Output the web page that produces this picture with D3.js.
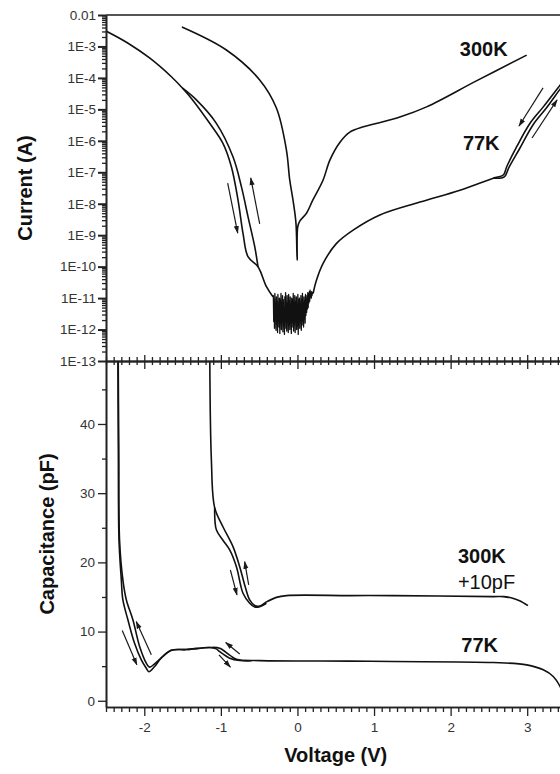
<!DOCTYPE html>
<html>
<head>
<meta charset="utf-8">
<script src="https://cdn.jsdelivr.net/npm/d3@7"></script>
<style>
  body { margin: 0; background: #fff; overflow: hidden; }
  svg { display: block; font-family: "Liberation Sans", Arial, sans-serif; }
</style>
</head>
<body>
<div id="vis-canvas"></div>
<script>
const outerWidth = 560;
const outerHeight = 774;

// ---- I-V data (top panel), current in A ----
// 77K sweep down the left side, into the noise floor
const iv77DownV = [-2.50, -2.217, -1.931, -1.643, -1.50, -1.369, -1.146, -0.973, -0.863, -0.776, -0.711, -0.646, -0.515, -0.405, -0.32];
const iv77DownI = [3.1e-3, 1.29e-3, 4.3e-4, 1.07e-4, 4.7e-5, 2.0e-5, 3.6e-6, 8.3e-7, 1.5e-7, 1.3e-8, 1.15e-9, 2.07e-10, 9.9e-11, 2.3e-11, 1.1e-11];
// 77K return branch of the left hysteresis loop
const iv77LoopV = [-1.50, -1.32, -1.059, -0.842, -0.732, -0.646, -0.558, -0.515];
const iv77LoopI = [4.7e-5, 2.0e-5, 3.6e-6, 3.1e-7, 3.5e-8, 3.9e-9, 4.3e-10, 9.9e-11];
// 77K noise floor around 0 V
const noiseV = [-0.315, -0.310, -0.305, -0.300, -0.295, -0.290, -0.285, -0.280, -0.275, -0.270,
                -0.265, -0.260, -0.255, -0.250, -0.245, -0.240, -0.235, -0.230, -0.225, -0.220,
                -0.215, -0.210, -0.205, -0.200, -0.195, -0.190, -0.185, -0.180, -0.175, -0.170,
                -0.165, -0.160, -0.155, -0.150, -0.145, -0.140, -0.135, -0.130, -0.125, -0.120,
                -0.115, -0.110, -0.105, -0.100, -0.095, -0.090, -0.085, -0.080, -0.075, -0.070,
                -0.065, -0.060, -0.055, -0.050, -0.045, -0.040, -0.035, -0.030, -0.025, -0.020,
                -0.015, -0.010, -0.005, 0.000, 0.005, 0.010, 0.015, 0.020, 0.025, 0.030,
                0.035, 0.040, 0.045, 0.050, 0.055, 0.060, 0.065, 0.070, 0.075, 0.080,
                0.085, 0.090, 0.095, 0.100, 0.105, 0.110, 0.115, 0.120, 0.125, 0.130,
                0.135, 0.140, 0.145, 0.150, 0.155, 0.160, 0.165, 0.170, 0.175, 0.180,
                0.185, 0.190, 0.195];
const noiseI = [1.2e-11, 1.8e-12, 9.0e-12, 1.1e-12, 1.4e-11, 2.2e-12, 6.0e-12, 9.5e-13, 1.1e-11, 1.5e-12,
                7.5e-12, 8.0e-13, 1.3e-11, 2.0e-12, 5.5e-12, 1.2e-12, 1.0e-11, 7.5e-13, 8.5e-12, 1.6e-12,
                1.4e-11, 1.0e-12, 6.5e-12, 2.4e-12, 1.2e-11, 8.5e-13, 9.0e-12, 1.3e-12, 5.0e-12, 7.0e-13,
                1.1e-11, 1.8e-12, 1.5e-11, 1.1e-12, 7.0e-12, 9.0e-13, 1.2e-11, 2.0e-12, 6.0e-12, 8.0e-13,
                1.3e-11, 1.4e-12, 8.0e-12, 1.0e-12, 1.1e-11, 2.3e-12, 5.5e-12, 7.5e-13, 1.0e-11, 1.2e-12,
                9.0e-12, 1.7e-12, 1.4e-11, 9.0e-13, 6.5e-12, 1.5e-12, 1.2e-11, 8.0e-13, 7.5e-12, 2.1e-12,
                1.1e-11, 1.0e-12, 5.0e-12, 1.3e-12, 1.3e-11, 7.0e-13, 8.5e-12, 1.8e-12, 1.0e-11, 1.1e-12,
                6.0e-12, 2.5e-12, 1.2e-11, 9.5e-13, 9.0e-12, 1.4e-12, 1.4e-11, 1.9e-12, 7.0e-12, 1.2e-12,
                1.1e-11, 2.2e-12, 8.0e-12, 1.6e-12, 1.3e-11, 2.8e-12, 9.5e-12, 3.5e-12, 1.2e-11, 4.5e-12,
                1.5e-11, 5.0e-12, 1.3e-11, 7.0e-12, 1.6e-11, 8.0e-12, 1.8e-11, 1.2e-11, 1.4e-11, 1.0e-11,
                1.6e-11, 1.2e-11, 1.5e-11];
// 77K rising right side
const iv77RiseV = [0.204, 0.248, 0.335, 0.51, 0.727, 1.076, 1.599, 2.122, 2.557, 2.688, 2.732, 2.863, 3.037, 3.21, 3.429, 3.5];
const iv77RiseI = [1.4e-11, 3.7e-11, 1.27e-10, 5.5e-10, 1.45e-9, 4.4e-9, 1.13e-8, 2.7e-8, 6.5e-8, 8.2e-8, 1.5e-7, 6.5e-7, 3.6e-6, 1.2e-5, 5.9e-5, 9.9e-5];
// 77K return branch at the right side
const iv77KinkV = [2.557, 2.70, 2.76, 2.90, 3.075, 3.25, 3.46, 3.5];
const iv77KinkI = [6.5e-8, 7.1e-8, 1.4e-7, 5.6e-7, 3.2e-6, 1.1e-5, 5.5e-5, 7.0e-5];
// 300K
const iv300V = [-1.509, -0.928, -0.493, -0.275, -0.144, -0.101, -0.058, -0.02, -0.004, 0.003, 0.03, 0.118, 0.2, 0.335, 0.422, 0.553, 0.684, 0.85, 1.0, 1.337, 1.686, 2.33, 2.993];
const iv300I = [4.15e-3, 7.7e-4, 8.6e-5, 1.1e-5, 5.1e-7, 5.7e-8, 1.3e-8, 2.5e-9, 1.6e-10, 1.8e-9, 2.8e-9, 5.0e-9, 1.3e-8, 5.7e-8, 2.4e-7, 8.9e-7, 1.9e-6, 2.75e-6, 3.4e-6, 5.7e-6, 1.2e-5, 7.9e-5, 5.3e-4];

// ---- C-V data (bottom panel), capacitance in pF ----
const cv77AV = [-2.345, -2.339, -2.33, -2.30, -2.28, -2.214, -2.127, -2.039, -1.974, -1.94, -1.865, -1.778, -1.647, -1.451, -1.146, -1.016, -0.885, -0.797, -0.493, 0.684, 1.25, 2.557, 2.993, 3.21, 3.34, 3.43, 3.5];
const cv77AC = [52, 36.2, 23.2, 17.5, 14.6, 11.7, 8.3, 5.9, 4.7, 4.2, 4.95, 6.2, 7.3, 7.4, 7.7, 7.6, 6.6, 6.0, 5.8, 5.73, 5.67, 5.53, 5.19, 4.47, 3.5, 2.06, 0.3];
const cv77BV = [-2.342, -2.333, -2.323, -2.28, -2.235, -2.149, -2.061, -1.974, -1.931, -1.865, -1.778, -1.647, -1.451, -1.146, -1.06, -1.016, -0.885, -0.754, -0.60];
const cv77BC = [52, 36.2, 23.2, 17.5, 14.6, 11.7, 7.84, 5.44, 4.86, 5.34, 6.2, 7.3, 7.4, 7.7, 7.5, 7.1, 6.16, 5.82, 5.78];
// 300K, shown shifted by +10 pF
const cv300AV = [-1.146, -1.124, -1.081, -0.973, -0.842, -0.754, -0.689, -0.624, -0.559, -0.493, -0.405, -0.275, -0.144, 0.684, 1.25, 2.557, 2.69, 2.80, 2.90, 3.01];
const cv300AC = [52, 34.8, 27.9, 25.15, 22.27, 19.38, 16.74, 14.57, 13.78, 13.7, 14.29, 14.94, 15.2, 15.2, 15.2, 15.05, 15.05, 14.85, 14.45, 13.75];
const cv300BV = [-1.081, -1.059, -0.973, -0.885, -0.797, -0.711, -0.624, -0.559, -0.493, -0.405];
const cv300BC = [27.9, 24.7, 23.2, 21.8, 19.38, 15.54, 14.1, 13.56, 13.6, 14.1];

// sweep-direction arrows: [V from, value from, V to, value to]
const ivArrows = [
  [-0.911, 4.5e-8, -0.78, 1.17e-9],
  [-0.493, 2.3e-9, -0.61, 6.6e-8],
  [3.207, 4.8e-5, 2.893, 2.95e-6],
  [3.063, 1.23e-6, 3.39, 2.0e-5]
];
const cvArrows = [
  [-0.876, 18.9, -0.79, 15.3],
  [-0.637, 16.74, -0.689, 20.1],
  [-2.288, 10.14, -2.097, 5.2],
  [-1.908, 6.64, -2.105, 11.44],
  [-0.754, 6.77, -0.937, 8.41],
  [-1.025, 6.64, -0.876, 4.86]
];

// curve labels: [text, V, value, bold]
const ivLabels = [["300K", 2.12, 5.0e-4, true], ["77K", 2.16, 5.1e-7, true]];
const cvLabels = [["300K", 2.095, 19.9, true], ["+10pF", 2.095, 16.2, false], ["77K", 2.14, 7.0, true]];

// tick values
const xMajor = [-2, -1, 0, 1, 2, 3];
const ivMajor = [1e-13, 1e-12, 1e-11, 1e-10, 1e-9, 1e-8, 1e-7, 1e-6, 1e-5, 1e-4, 1e-3, 1e-2];
const cvMajor = [0, 10, 20, 30, 40];
const cvMinor = [5, 15, 25, 35, 45];

const svg = d3.select("#vis-canvas").append("svg")
    .attr("width", outerWidth)
    .attr("height", outerHeight);

const plotLeft = 106, plotRight = 565.5;
const ivTop = 15, ivBottom = 361, cvBottom = 707;

const x = d3.scaleLinear().domain([-2.5, 3.5]).range([plotLeft, plotRight]);
const yI = d3.scaleLog().domain([1e-13, 1e-2]).range([ivBottom, ivTop]);
const yC = d3.scaleLinear().domain([-0.9, 49.1]).range([cvBottom, ivBottom]);

const defs = svg.append("defs");
defs.append("clipPath").attr("id", "ivClip").append("rect")
    .attr("x", plotLeft).attr("y", ivTop).attr("width", plotRight - plotLeft).attr("height", ivBottom - ivTop);
defs.append("clipPath").attr("id", "cvClip").append("rect")
    .attr("x", plotLeft).attr("y", ivBottom).attr("width", plotRight - plotLeft).attr("height", cvBottom - ivBottom);
defs.append("marker")
    .attr("id", "arrowhead")
    .attr("viewBox", "0 0 10 10")
    .attr("refX", 9).attr("refY", 5)
    .attr("markerWidth", 8).attr("markerHeight", 8)
    .attr("markerUnits", "userSpaceOnUse")
    .attr("orient", "auto")
  .append("path")
    .attr("d", "M0,1.8L10,5L0,8.2Z")
    .attr("fill", "#1a1a1a");

const zip = (a, b) => a.map((v, i) => [v, b[i]]);

const ivLine = d3.line().x(d => x(d[0])).y(d => yI(d[1])).curve(d3.curveCatmullRom.alpha(0.5));
const ivNoiseLine = d3.line().x(d => x(d[0])).y(d => yI(d[1]));
const cvLine = d3.line().x(d => x(d[0])).y(d => yC(d[1])).curve(d3.curveCatmullRom.alpha(0.5));

// ** curves
const ivG = svg.append("g").attr("clip-path", "url(#ivClip)")
    .attr("fill", "none").attr("stroke", "#111").attr("stroke-width", 1.6).attr("stroke-linejoin", "round");

const noisePts = zip(noiseV, noiseI);
const down77 = zip(iv77DownV, iv77DownI);
const rise77 = zip(iv77RiseV, iv77RiseI);

ivG.append("path").attr("d", ivLine(down77));
ivG.append("path").attr("d", ivLine(zip(iv77LoopV, iv77LoopI)));
ivG.append("path").attr("stroke-width", 1.3)
    .attr("d", ivNoiseLine([down77[down77.length - 1], ...noisePts, rise77[0]]));
ivG.append("path").attr("d", ivLine(rise77));
ivG.append("path").attr("d", ivLine(zip(iv77KinkV, iv77KinkI)));
ivG.append("path").attr("d", ivLine(zip(iv300V, iv300I)));

const cvG = svg.append("g").attr("clip-path", "url(#cvClip)")
    .attr("fill", "none").attr("stroke", "#111").attr("stroke-width", 1.6).attr("stroke-linejoin", "round");

cvG.append("path").attr("d", cvLine(zip(cv77AV, cv77AC)));
cvG.append("path").attr("d", cvLine(zip(cv77BV, cv77BC)));
cvG.append("path").attr("d", cvLine(zip(cv300AV, cv300AC)));
cvG.append("path").attr("d", cvLine(zip(cv300BV, cv300BC)));

// ** arrows
svg.append("g").selectAll("line")
    .data(ivArrows)
    .join("line")
    .attr("x1", d => x(d[0])).attr("y1", d => yI(d[1]))
    .attr("x2", d => x(d[2])).attr("y2", d => yI(d[3]))
    .attr("stroke", "#1a1a1a").attr("stroke-width", 1.2)
    .attr("marker-end", "url(#arrowhead)");

svg.append("g").selectAll("line")
    .data(cvArrows)
    .join("line")
    .attr("x1", d => x(d[0])).attr("y1", d => yC(d[1]))
    .attr("x2", d => x(d[2])).attr("y2", d => yC(d[3]))
    .attr("stroke", "#1a1a1a").attr("stroke-width", 1.2)
    .attr("marker-end", "url(#arrowhead)");

// ** axes
function styleAxis(g, withText) {
    g.select(".domain").attr("stroke", "#222").attr("stroke-width", 1.6);
    g.selectAll(".tick line").attr("stroke", "#222").attr("stroke-width", 1.3);
    g.selectAll(".tick text").attr("fill", "#333").style("font-size", "13.5px")
        .style("font-family", '"Liberation Sans", Arial, sans-serif');
    if (!withText) g.selectAll(".tick text").remove();
}

const xMinor = d3.range(-25, 36).map(v => v / 10).filter(v => !Number.isInteger(v));
const ivMinor = [];
ivMajor.slice(0, -1).forEach(d => { for (let m = 2; m <= 9; m++) ivMinor.push(d * m); });

const fmtI = d => d === 1e-2 ? "0.01" : "1E" + Math.round(Math.log10(d));
const fmtX = d => String(d);

// top panel: frame line on top
svg.append("line")
    .attr("x1", plotLeft).attr("x2", plotRight)
    .attr("y1", ivTop).attr("y2", ivTop)
    .attr("stroke", "#555").attr("stroke-width", 2);

// top panel left (log) axis
svg.append("g").attr("transform", `translate(${plotLeft},0)`)
    .call(d3.axisLeft(yI).tickValues(ivMinor).tickSize(4).tickSizeOuter(0).tickFormat(""))
    .call(g => styleAxis(g, false));
svg.append("g").attr("transform", `translate(${plotLeft},0)`)
    .call(d3.axisLeft(yI).tickValues(ivMajor).tickSize(8).tickSizeOuter(0).tickPadding(2).tickFormat(fmtI))
    .call(g => styleAxis(g, true))
    .call(g => g.selectAll(".tick line").attr("stroke-width", 2));

// shared middle axis, ticks crossing the line
[["axisBottom", xMinor, 4], ["axisTop", xMinor, 4], ["axisBottom", xMajor, 8], ["axisTop", xMajor, 6]]
    .forEach(([fn, vals, size]) => {
        svg.append("g").attr("transform", `translate(0,${ivBottom})`)
            .call(d3[fn](x).tickValues(vals).tickSize(size).tickSizeOuter(0).tickFormat(""))
            .call(g => styleAxis(g, false));
    });

// bottom panel left axis
svg.append("g").attr("transform", `translate(${plotLeft},0)`)
    .call(d3.axisLeft(yC).tickValues(cvMinor).tickSize(4).tickSizeOuter(0).tickFormat(""))
    .call(g => styleAxis(g, false));
svg.append("g").attr("transform", `translate(${plotLeft},0)`)
    .call(d3.axisLeft(yC).tickValues(cvMajor).tickSize(8).tickSizeOuter(0).tickPadding(3))
    .call(g => styleAxis(g, true));

// bottom panel x axis
svg.append("g").attr("transform", `translate(0,${cvBottom})`)
    .call(d3.axisBottom(x).tickValues(xMinor).tickSize(5).tickSizeOuter(0).tickFormat(""))
    .call(g => styleAxis(g, false));
svg.append("g").attr("transform", `translate(0,${cvBottom})`)
    .call(d3.axisBottom(x).tickValues(xMajor).tickSize(9).tickSizeOuter(0).tickPadding(6).tickFormat(fmtX))
    .call(g => styleAxis(g, true));

// ** titles
const titleStyle = sel => sel.attr("fill", "#111").style("font-size", "20px").style("font-weight", "bold");

svg.append("text")
    .attr("transform", `translate(32,${(ivTop + ivBottom) / 2}) rotate(-90)`)
    .attr("text-anchor", "middle")
    .text("Current (A)")
    .call(titleStyle);

svg.append("text")
    .attr("transform", `translate(54,${(ivBottom + cvBottom) / 2}) rotate(-90)`)
    .attr("text-anchor", "middle")
    .text("Capacitance (pF)")
    .call(titleStyle);

svg.append("text")
    .attr("x", (plotLeft + plotRight) / 2)
    .attr("y", 762)
    .attr("text-anchor", "middle")
    .text("Voltage (V)")
    .call(titleStyle);

// ** curve labels
svg.append("g").selectAll("text")
    .data(ivLabels)
    .join("text")
    .attr("x", d => x(d[1])).attr("y", d => yI(d[2]))
    .attr("fill", "#111").style("font-size", "20px")
    .style("font-weight", d => d[3] ? "bold" : "normal")
    .text(d => d[0]);

svg.append("g").selectAll("text")
    .data(cvLabels)
    .join("text")
    .attr("x", d => x(d[1])).attr("y", d => yC(d[2]))
    .attr("fill", "#111").style("font-size", "20px")
    .style("font-weight", d => d[3] ? "bold" : "normal")
    .text(d => d[0]);
</script>
</body>
</html>
